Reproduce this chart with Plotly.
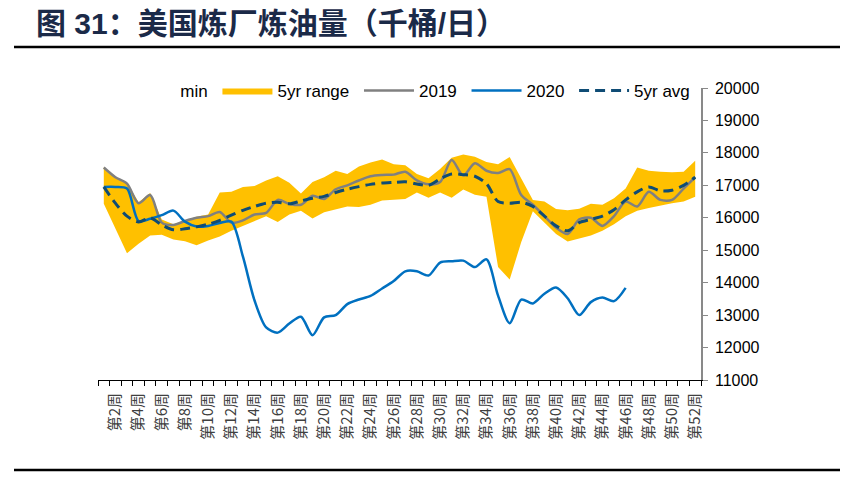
import plotly.graph_objects as go

# weekly refinery runs, thousand barrels / day
weeks = list(range(1, 53))
week_labels = ["第%d周" % w for w in weeks]

range_min = [16430, 15650, 14910, 15200, 15450, 15480, 15330, 15280, 15150, 15300,
             15420, 15600, 15750, 15900, 16050, 15870, 16100, 16220, 15980, 16170,
             16250, 16350, 16330, 16400, 16530, 16550, 16580, 16780, 16620, 16780,
             16620, 16870, 16710, 16650, 14480, 14100, 15250, 16200, 15850, 15500,
             15270, 15350, 15450, 15600, 15800, 16050, 16220, 16300, 16380, 16450,
             16500, 16650]
range_max = [17560, 17260, 17080, 16480, 16760, 15950, 15800, 15920, 16030, 16100,
             16780, 16800, 16950, 16980, 17150, 17280, 17080, 16750, 17100, 17250,
             17450, 17350, 17580, 17700, 17800, 17650, 17620, 17350, 17220, 17500,
             17850, 17950, 17880, 17720, 17650, 17870, 17200, 16550, 16500, 16270,
             16230, 16280, 16430, 16400, 16600, 16900, 17550, 17450, 17420, 17400,
             17420, 17760]
y2019 = [17550, 17250, 17050, 16450, 16700, 15850, 15780, 15900, 16000, 16050,
         16180, 15850, 15920, 16100, 16150, 16550, 16430, 16400, 16680, 16580,
         16880, 17000, 17150, 17280, 17320, 17330, 17420, 17150, 17030, 17100,
         17780, 17300, 17680, 17450, 17380, 17500, 16700, 16400, 16050, 15700,
         15500, 15950, 16000, 15750, 16050, 16500, 16350, 16800, 16550, 16550,
         16900, 17250]
y2020 = [16950, 16950, 16900, 15900, 15970, 16080, 16220, 15880, 15730, 15750,
         15840, 15880, 14800, 13450, 12620, 12460, 12740, 12950, 12380, 12930,
         13000, 13340, 13480, 13590, 13820, 14050, 14350, 14350, 14220, 14620,
         14660, 14680, 14480, 14720, 13600, 12750, 13480, 13360, 13660, 13850,
         13520, 13000, 13400, 13540, 13430, 13840]
avg5 = [16950, 16450, 16050, 15870, 16000, 15780, 15630, 15660, 15720, 15800,
        15920, 16080, 16230, 16350, 16450, 16480, 16430, 16520, 16600, 16660,
        16780, 16880, 16960, 17030, 17070, 17090, 17110, 17040, 17000, 17200,
        17350, 17330, 17280, 17050, 16500, 16450, 16480, 16350, 16050, 15750,
        15600, 15850, 15950, 16050, 16250, 16550, 16800, 16950, 16830, 16850,
        17000, 17250]

label_weeks = weeks[1::2]
label_text = [week_labels[w - 1] for w in label_weeks]
boundaries = [w - 0.5 for w in weeks] + [weeks[-1] + 0.5]

FONT = "Liberation Sans, Arial, Noto Sans CJK SC"
PAD = 8  # default page margin of the html body
NB = "\u00a0"  # a little extra room after each legend entry

fig = go.Figure()
fig.add_trace(go.Scatter(x=weeks, y=range_min, name="min" + NB, mode="lines",
                         line=dict(width=0, color="rgba(0,0,0,0)")))
fig.add_trace(go.Scatter(x=weeks, y=range_max, name="5yr range" + NB, mode="lines",
                         fill="tonexty", fillcolor="#FFC000",
                         line=dict(width=0, color="#FFC000")))
fig.add_trace(go.Scatter(x=weeks, y=y2019, name="2019" + NB, mode="lines",
                         line=dict(color="#808080", width=2.5, shape="spline", smoothing=0.8)))
fig.add_trace(go.Scatter(x=weeks[:len(y2020)], y=y2020, name="2020" + NB, mode="lines",
                         line=dict(color="#0070C0", width=2.5, shape="spline", smoothing=0.8)))
fig.add_trace(go.Scatter(x=weeks, y=avg5, name="5yr avg", mode="lines",
                         line=dict(color="#0F4C75", width=3, dash="10px,6px",
                                   shape="spline", smoothing=0.8)))

fig.update_layout(
    width=853, height=500,
    margin=dict(l=98 - PAD, r=152 + PAD, t=88 - PAD, b=120 + PAD, autoexpand=False),
    paper_bgcolor="white", plot_bgcolor="white",
    font=dict(family=FONT, size=16, color="#000000"),
    title=dict(text="<b>图 31：美国炼厂炼油量（千桶/日）</b>",
               x=(36 - PAD) / 853, xanchor="left", y=1 - (23 - PAD) / 500, yanchor="middle",
               xref="container", yref="container",
               font=dict(family=FONT, size=30, color="#1B2A48")),
    showlegend=True,
    legend=dict(orientation="h", x=0.037, xanchor="left", y=0.99, yanchor="middle",
                font=dict(size=17, color="#000000"), bgcolor="rgba(0,0,0,0)",
                itemwidth=50, traceorder="normal"),
    shapes=[
        dict(type="line", xref="paper", yref="paper",
             x0=(14 - 98) / 603, x1=(840 - 98) / 603,
             y0=(380 - 47) / 292, y1=(380 - 47) / 292,
             line=dict(color="#000000", width=2.5)),
        dict(type="line", xref="paper", yref="paper",
             x0=(14 - 98) / 603, x1=(840 - 98) / 603,
             y0=(380 - 470) / 292, y1=(380 - 470) / 292,
             line=dict(color="#000000", width=2.5)),
    ],
)

fig.update_xaxes(
    range=[0.5, 52.5], tickmode="array", tickvals=label_weeks, ticktext=label_text,
    tickangle=-90, ticks="", showgrid=False, zeroline=False,
    showline=True, linecolor="#000000", linewidth=1, ticklabelstandoff=6,
    tickfont=dict(family="Noto Sans CJK SC", size=15, color="#404040"),
    minor=dict(tickmode="array", tickvals=boundaries, ticks="outside",
               ticklen=5, tickcolor="#000000", showgrid=False),
)
fig.update_yaxes(
    side="right", range=[11000, 20000], dtick=1000, tickformat="d",
    ticks="outside", ticklen=5, tickcolor="#898989",
    showline=True, linecolor="#898989", linewidth=1.5,
    showgrid=False, zeroline=False, ticklabelstandoff=4,
    tickfont=dict(size=16, color="#000000"),
)

fig.write_html("out.html")
